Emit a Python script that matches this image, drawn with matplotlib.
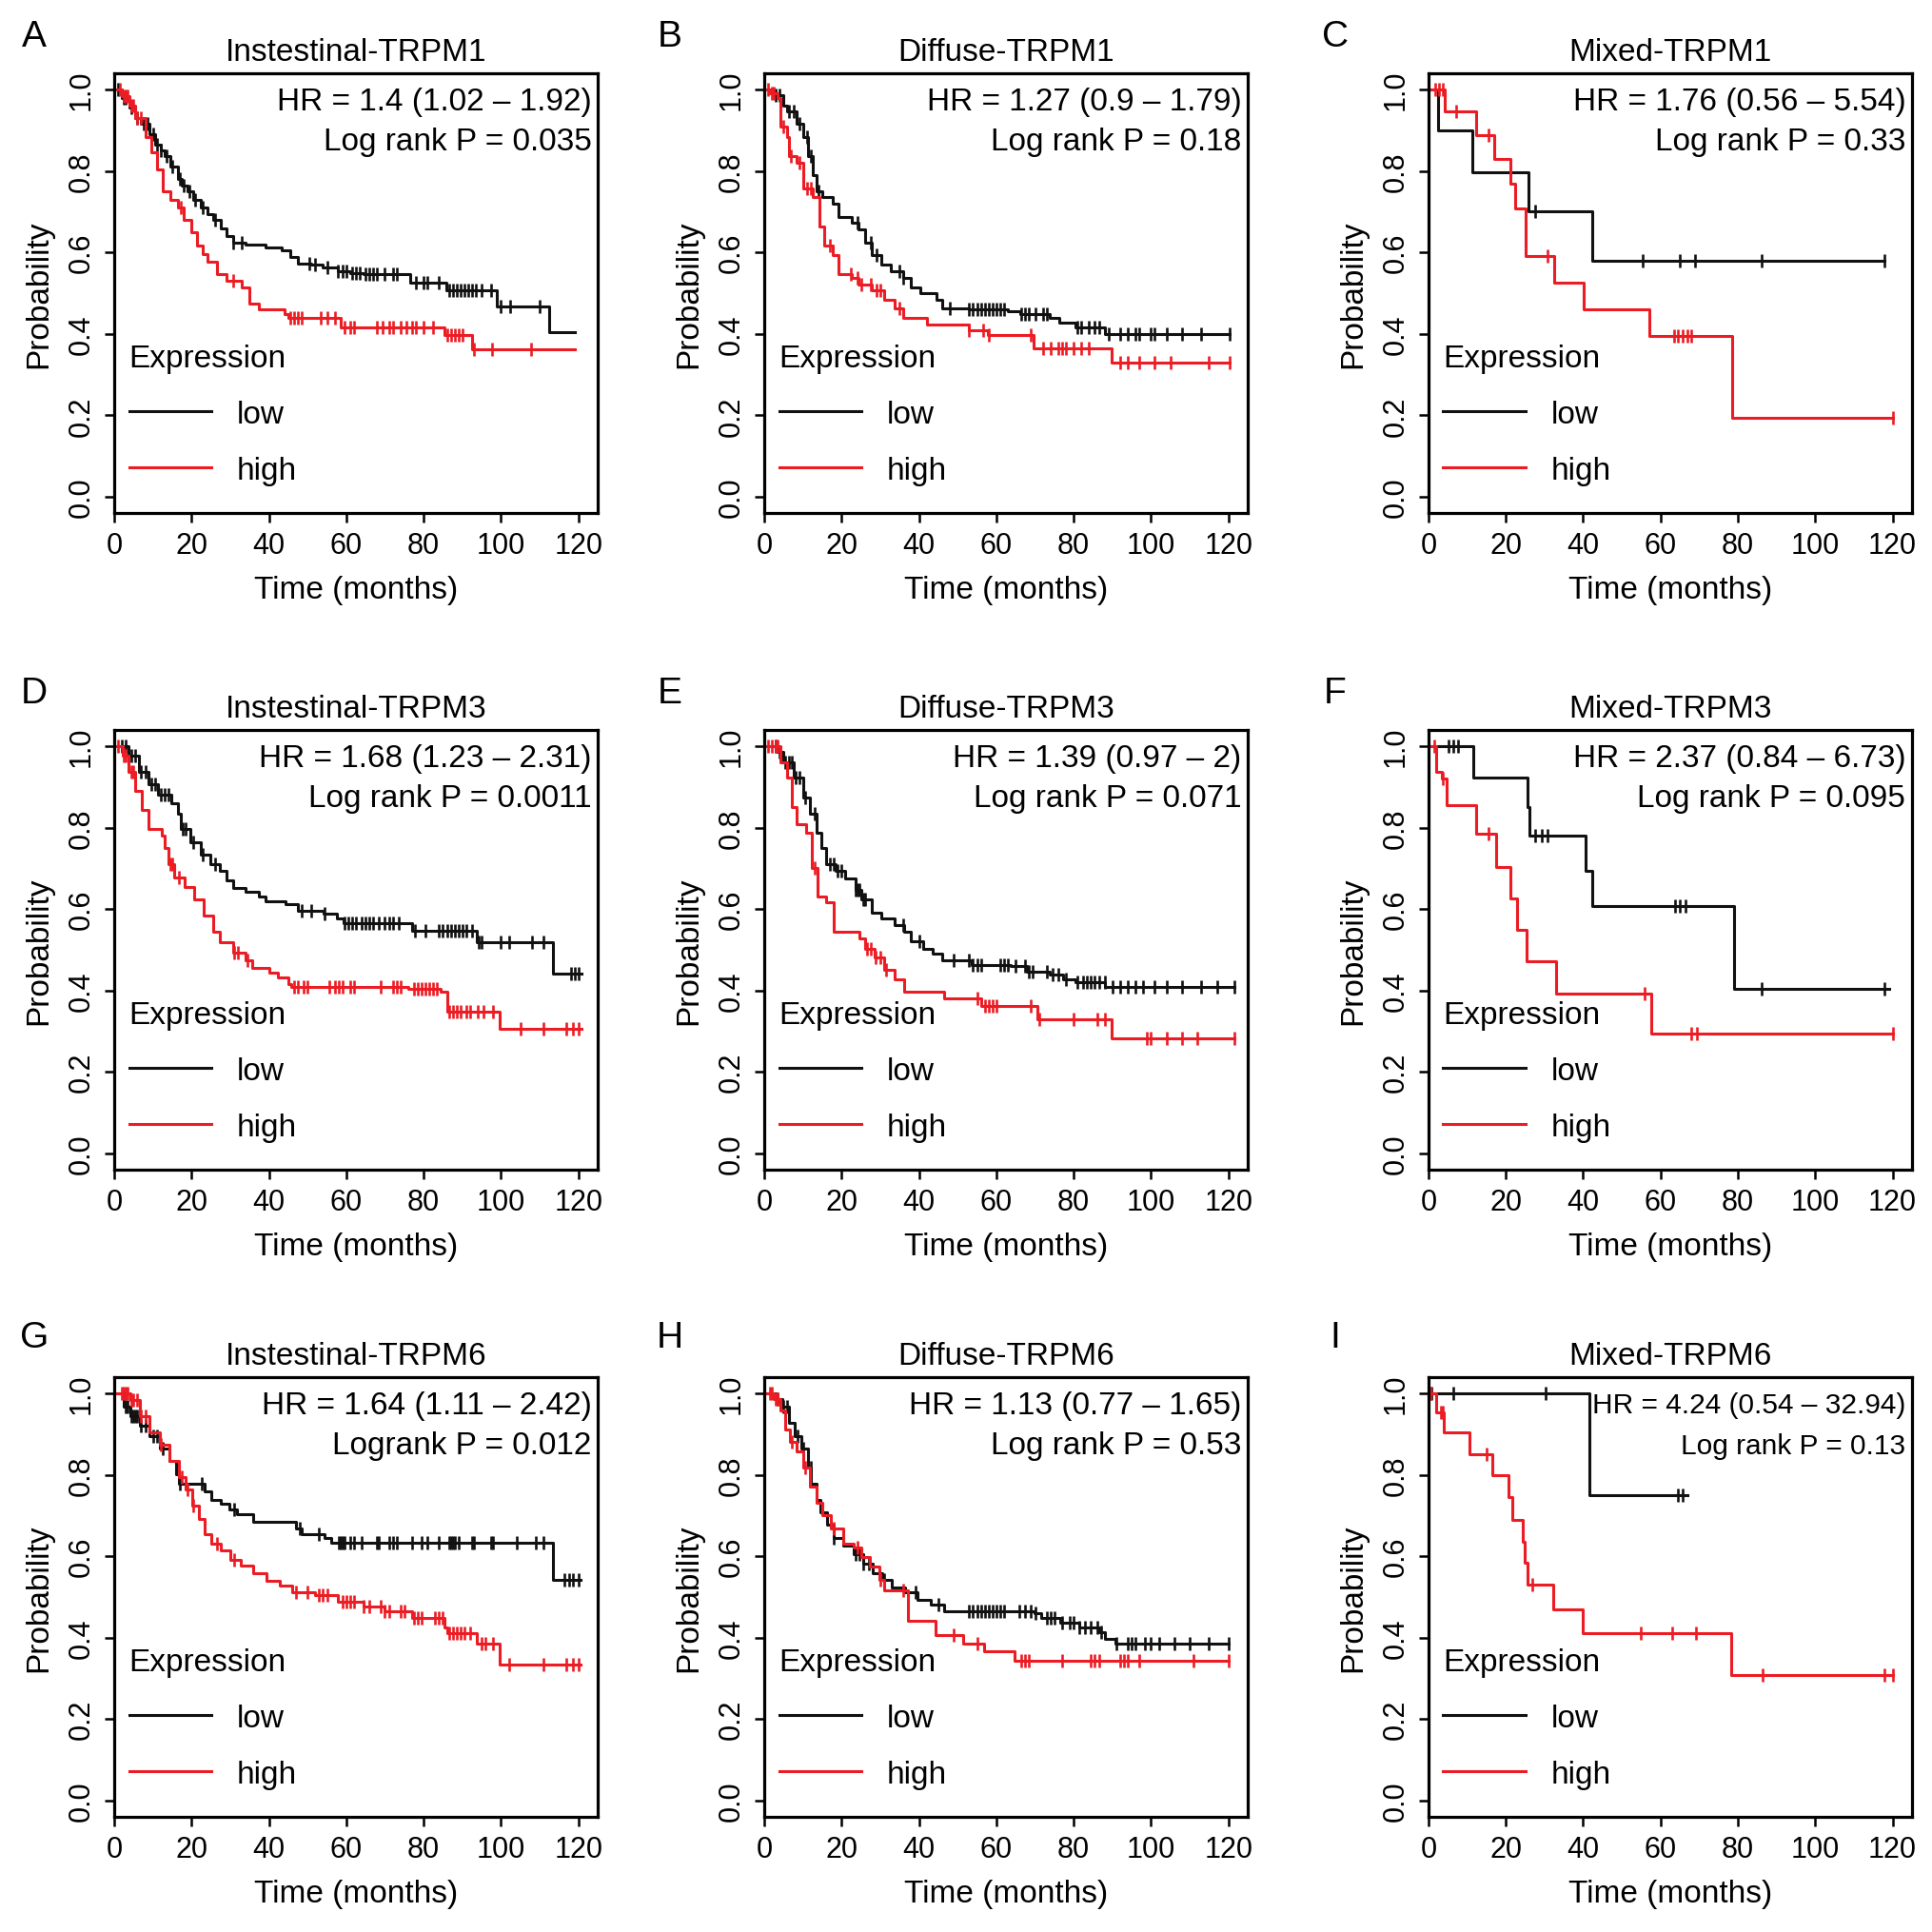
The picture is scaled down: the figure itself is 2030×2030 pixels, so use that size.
import matplotlib
matplotlib.use("Agg")
import matplotlib.pyplot as plt
from matplotlib.lines import Line2D
import numpy as np

plt.rcParams['font.family'] = ['Liberation Sans', 'DejaVu Sans']

RED = '#ec1c24'
BLACK = '#111111'

# ---- panel texts ----
letters = ['A', 'B', 'C', 'D', 'E', 'F', 'G', 'H', 'I']
titles = ['Instestinal-TRPM1', 'Diffuse-TRPM1', 'Mixed-TRPM1',
          'Instestinal-TRPM3', 'Diffuse-TRPM3', 'Mixed-TRPM3',
          'Instestinal-TRPM6', 'Diffuse-TRPM6', 'Mixed-TRPM6']
hr_texts = ['HR = 1.4 (1.02 \u2013 1.92)', 'HR = 1.27 (0.9 \u2013 1.79)', 'HR = 1.76 (0.56 \u2013 5.54)',
            'HR = 1.68 (1.23 \u2013 2.31)', 'HR = 1.39 (0.97 \u2013 2)', 'HR = 2.37 (0.84 \u2013 6.73)',
            'HR = 1.64 (1.11 \u2013 2.42)', 'HR = 1.13 (0.77 \u2013 1.65)', 'HR = 4.24 (0.54 \u2013 32.94)']
p_texts = ['Log rank P = 0.035', 'Log rank P = 0.18', 'Log rank P = 0.33',
           'Log rank P = 0.0011', 'Log rank P = 0.071', 'Log rank P = 0.095',
           'Logrank P = 0.012', 'Log rank P = 0.53', 'Log rank P = 0.13']

# ---- survival curves: step times, survival after step, censor times ----
# A  Intestinal TRPM1
a_low_t = [0, 2, 4, 5.5, 7, 9, 10.5, 12, 13, 14.5, 16.4, 17.5, 19, 20.5, 22.3, 24, 25.7, 27.5, 29, 30.7,
           34, 39, 43.4, 45.5, 47.6, 51, 54, 57.7, 61, 64.4, 76.6, 85.9, 99, 112.4, 119.2]
a_low_s = [1.0, 0.98, 0.955, 0.93, 0.915, 0.89, 0.864, 0.85, 0.837, 0.81, 0.78, 0.765, 0.75, 0.73, 0.711,
           0.695, 0.68, 0.66, 0.64, 0.624, 0.62, 0.613, 0.605, 0.59, 0.573, 0.57, 0.562, 0.554, 0.55,
           0.546, 0.526, 0.507, 0.467, 0.405, 0.405]
a_low_c = [1, 2.5, 3, 4.5, 6, 7.5, 8.5, 10, 11, 12, 13.5, 15, 17, 18, 19.5, 21, 23, 26, 30.7, 33, 50.5,
           52, 55, 57.8, 59, 60, 61.5, 62.5, 63.5, 65, 66, 67, 68, 70, 72, 73, 78, 80, 81, 84, 86.5,
           87.5, 88.5, 89.5, 90.5, 91.5, 92.5, 93.5, 95, 97.5, 99.8, 102.3, 109.9]
a_high_t = [0, 2, 4, 5.5, 8, 9.7, 11, 12.6, 14.5, 16.4, 18, 20, 21.5, 23, 24, 26.5, 29, 33, 35, 37.5,
            44, 45, 58.5, 85.5, 92.6, 119]
a_high_s = [1.0, 0.985, 0.96, 0.93, 0.884, 0.845, 0.805, 0.75, 0.73, 0.711, 0.68, 0.65, 0.617, 0.595,
            0.577, 0.546, 0.53, 0.515, 0.475, 0.46, 0.448, 0.44, 0.416, 0.397, 0.361, 0.361]
a_high_c = [1.5, 2.5, 3, 3.5, 4.5, 5, 6, 7, 17.3, 30.7, 45.5, 46.5, 47.5, 48.5, 53.5, 55, 57, 59.5, 61,
            62, 68, 69.5, 71, 72, 74, 75.5, 77, 78, 80, 82.5, 86, 87, 88, 89, 90, 93, 97.7, 107.8]

# B  Diffuse TRPM1
b_low_t = [0, 2.5, 5, 5.9, 8.4, 10, 11.3, 12.6, 13.4, 15.1, 17.6, 19.3, 22.6, 24.3, 26, 27.7, 30.2,
           32.7, 36, 37.8, 40.3, 44.5, 46.1, 52.9, 62.9, 66.3, 73.8, 76.3, 80.5, 88, 120.4]
b_low_s = [1.0, 0.986, 0.96, 0.947, 0.915, 0.884, 0.837, 0.79, 0.75, 0.735, 0.719, 0.687, 0.672, 0.656,
           0.625, 0.593, 0.57, 0.554, 0.538, 0.515, 0.499, 0.483, 0.463, 0.46, 0.456, 0.448, 0.44,
           0.428, 0.416, 0.4, 0.4]
b_low_c = [3, 4, 6.5, 7.5, 9, 11, 12, 14, 24, 27.5, 29, 35, 36, 48, 53, 54, 55, 56, 57, 58, 59, 60, 61,
           62, 66.5, 67.5, 68.5, 70, 72, 73, 81, 82, 84, 85.5, 86.5, 89, 92, 94, 96, 97, 100, 101, 104,
           108, 113, 120.4]
b_high_t = [0, 1.5, 3.4, 4.2, 5.9, 6.3, 8.4, 10, 12.6, 14.3, 15.5, 17.6, 19.3, 22.6, 24.3, 27.7, 31,
            33.6, 36, 42, 52.9, 57.9, 69.6, 89.8, 120.4]
b_high_s = [1.0, 0.99, 0.98, 0.91, 0.884, 0.837, 0.82, 0.758, 0.735, 0.664, 0.617, 0.593, 0.546, 0.538,
            0.522, 0.507, 0.483, 0.463, 0.44, 0.424, 0.408, 0.397, 0.365, 0.33, 0.33]
b_high_c = [1, 2, 2.5, 5, 6.8, 9, 11, 12, 17, 22.5, 24, 25, 27.5, 29, 30, 35, 53, 56.5, 58, 69, 72, 74,
            76, 77, 78, 80, 82, 84, 92, 94, 97, 101, 105, 115, 120.4]

# C  Mixed TRPM1
c_low_t = [0, 2.5, 11.4, 25.8, 42.3, 118]
c_low_s = [1.0, 0.9, 0.797, 0.7, 0.579, 0.579]
c_low_c = [27.5, 55.4, 65, 69, 86.2, 118]
c_high_t = [0, 4.2, 12.3, 17.1, 21.1, 22.4, 25.2, 32.5, 40.2, 57.2, 78.6, 120]
c_high_s = [1.0, 0.947, 0.888, 0.83, 0.77, 0.709, 0.592, 0.526, 0.461, 0.394, 0.195, 0.195]
c_high_c = [1.7, 2.8, 3.8, 7.2, 15.6, 30.9, 63.4, 64.6, 65.8, 67, 68, 120]

# D  Intestinal TRPM3
d_low_t = [0, 3.8, 6.3, 8.8, 11.4, 14.7, 16.4, 17.2, 19.8, 22.3, 24.8, 27.3, 29, 30.7, 34, 37.4, 39.1,
           44.2, 47.5, 54.2, 57.6, 59.3, 76.9, 93.8, 113.5, 120.7]
d_low_s = [1.0, 0.976, 0.937, 0.906, 0.882, 0.859, 0.835, 0.796, 0.765, 0.733, 0.71, 0.694, 0.67, 0.651,
           0.643, 0.631, 0.62, 0.612, 0.596, 0.588, 0.576, 0.565, 0.547, 0.518, 0.442, 0.442]
d_low_c = [2, 3, 4.5, 5.5, 7, 8, 9.5, 10.5, 12, 13, 14, 17.8, 18.5, 20.5, 22.8, 26, 48.4, 50.9, 54.5,
           59.5, 60.5, 61.5, 62.5, 64, 65, 66, 67, 68.5, 70, 71, 72, 73.6, 77.7, 80.5, 84, 85, 86, 87,
           88, 89, 90, 91, 92.5, 94.3, 95, 100, 102, 108, 111, 118, 119, 120]
d_high_t = [0, 2.1, 3.8, 5.5, 7.1, 8.8, 12.2, 13, 13.9, 15.6, 18.1, 20.6, 23.1, 25.6, 27.3, 30.7, 34,
            35.7, 40, 42.4, 45, 45.8, 76.1, 84.5, 86, 99.7, 120.7]
d_high_s = [1.0, 0.976, 0.937, 0.89, 0.843, 0.796, 0.78, 0.749, 0.71, 0.678, 0.655, 0.624, 0.584, 0.545,
            0.518, 0.494, 0.475, 0.455, 0.443, 0.431, 0.416, 0.408, 0.404, 0.396, 0.349, 0.306, 0.306]
d_high_c = [1, 2.5, 3, 4.5, 5, 14.5, 15, 16.8, 31, 32, 34.5, 46.5, 47.5, 49, 50, 55.5, 57, 58, 59, 61,
            62, 69, 72, 73, 74, 77.5, 78.5, 79.5, 80.5, 81.5, 82.5, 83.5, 86.5, 87.5, 88.5, 89.5, 91,
            92, 94, 95.5, 98, 105, 111, 117, 118.5, 120]

# E  Diffuse TRPM3
e_low_t = [0, 3.4, 5, 7.6, 10, 11.7, 13.4, 14.7, 15.9, 18.5, 21, 23.5, 25.2, 27.7, 30.2, 33.6, 36.1,
           37.8, 41.1, 43.6, 46.1, 53.7, 63.8, 68, 73.8, 77.2, 80.5, 88.1, 121.6]
e_low_s = [1.0, 0.985, 0.96, 0.922, 0.875, 0.835, 0.788, 0.749, 0.71, 0.694, 0.675, 0.647, 0.624, 0.592,
           0.576, 0.561, 0.545, 0.522, 0.502, 0.49, 0.475, 0.463, 0.459, 0.447, 0.439, 0.427, 0.42,
           0.408, 0.408]
e_low_c = [3, 4, 5.5, 6.5, 7, 8, 9, 10.5, 13, 17, 18, 19, 20, 23.5, 24, 24.5, 25.5, 26, 36, 40, 49, 53,
           54, 55, 56, 61, 62, 63, 65, 67.5, 68.5, 69.5, 73, 74.5, 76, 78, 81, 82.5, 83.5, 84.5, 85.5,
           86.5, 88, 90, 92, 94, 96, 98, 101, 104, 108, 113, 117, 121.6]
e_high_t = [0, 4.2, 5.9, 7.1, 8.4, 10.9, 12.2, 13.8, 15.9, 18, 24.7, 26, 28.5, 31, 33.6, 36.1, 46.6,
            56.2, 70.5, 89.8, 121.6]
e_high_s = [1.0, 0.96, 0.922, 0.851, 0.808, 0.788, 0.702, 0.631, 0.616, 0.545, 0.529, 0.502, 0.482,
            0.451, 0.427, 0.396, 0.38, 0.361, 0.329, 0.282, 0.282]
e_high_c = [1, 2, 3, 3.5, 13, 26.5, 27.5, 28.8, 30, 31.5, 55, 57, 58, 59, 60, 69, 71, 80, 86, 88, 99,
            100, 104, 108, 112, 121.6]

# F  Mixed TRPM3
f_low_t = [0, 11.7, 25.5, 26.2, 40.6, 42.3, 79, 119.2]
f_low_s = [1.0, 0.922, 0.851, 0.78, 0.694, 0.608, 0.405, 0.405]
f_low_c = [5.1, 6.3, 7.6, 27.5, 29.2, 30.9, 63.8, 65, 66.4, 86.2, 118]
f_high_t = [0, 2.1, 3.4, 4.6, 12.3, 17.6, 21.3, 22.8, 25.4, 33, 57.5, 120]
f_high_s = [1.0, 0.937, 0.92, 0.855, 0.784, 0.704, 0.627, 0.549, 0.472, 0.392, 0.294, 0.294]
f_high_c = [1.5, 3.8, 15.6, 55.8, 68, 69.3, 120]

# G  Intestinal TRPM6
g_low_t = [0, 2.5, 4.2, 6.7, 9.2, 11.7, 14.2, 15.9, 16.7, 23.4, 25.1, 27.6, 29.7, 31.8, 36, 46.9, 48.5,
           54.4, 56, 113.4, 120.5]
g_low_s = [1.0, 0.967, 0.943, 0.92, 0.896, 0.865, 0.834, 0.802, 0.779, 0.759, 0.739, 0.728, 0.716,
           0.704, 0.684, 0.669, 0.653, 0.645, 0.633, 0.542, 0.542]
g_low_c = [3, 3.5, 4.5, 5, 5.5, 6, 7, 8, 10, 11, 12.5, 17, 22.6, 31, 48, 53, 58, 58.5, 59, 59.5, 61, 62,
           64, 68, 68.5, 71, 72, 73, 77, 79.5, 81, 84, 86.5, 87, 87.5, 88, 89, 92.5, 93, 97.5, 98, 104,
           109, 111, 116.5, 117.5, 118.5, 120]
g_high_t = [0, 4.2, 6.7, 9.2, 11.7, 14.2, 16.7, 18.4, 20.1, 21.8, 23.4, 25.1, 27.6, 30.1, 32.6, 36,
            39.3, 42.7, 46, 51.9, 57.7, 64.4, 70, 77, 85.4, 86.2, 93.7, 99.6, 120.5]
g_high_s = [1.0, 0.983, 0.943, 0.904, 0.873, 0.834, 0.794, 0.763, 0.724, 0.692, 0.653, 0.63, 0.614,
            0.59, 0.578, 0.559, 0.539, 0.527, 0.512, 0.504, 0.488, 0.476, 0.465, 0.449, 0.425, 0.41,
            0.386, 0.335, 0.335]
g_high_c = [2, 2.5, 3, 3.5, 4.5, 5, 6, 7, 8, 12, 17.5, 19, 20.5, 26.5, 31, 47, 50, 53, 54, 55, 59, 60,
            61, 62, 64.5, 66, 69, 70, 71, 74, 75, 77.5, 78.5, 79.5, 83, 84, 85, 86.5, 87.5, 88.5, 89.5,
            90.5, 92, 95, 96, 98, 102, 111, 117, 118.5, 120]

# H  Diffuse TRPM6
h_low_t = [0, 2.9, 4.6, 6.3, 7.9, 9.6, 11.3, 12.1, 13.4, 14.6, 16.3, 18, 20.5, 23, 25.5, 28, 30.5, 33,
           36.4, 39.7, 43.1, 46.4, 69.8, 71.5, 76.5, 81.5, 86.5, 88.2, 90.7, 120]
h_low_s = [1.0, 0.985, 0.967, 0.928, 0.896, 0.865, 0.818, 0.779, 0.739, 0.708, 0.677, 0.645, 0.626,
           0.606, 0.582, 0.559, 0.543, 0.524, 0.512, 0.492, 0.48, 0.465, 0.461, 0.449, 0.437, 0.425,
           0.414, 0.398, 0.385, 0.385]
h_low_c = [3.5, 5, 6, 8.5, 10, 12, 18, 23.5, 24.5, 25.5, 27, 31, 39, 45, 53, 54, 55, 56, 57, 58, 59, 60,
           61, 62, 66, 67.5, 69, 70, 73, 74, 75, 77, 79, 80, 81.5, 83, 84.5, 86, 87, 91, 94, 95, 96,
           98.5, 100, 102, 106, 110, 115, 120]
h_high_t = [0, 2.5, 4.2, 5.4, 6.7, 8.4, 10, 11.7, 13.4, 15, 17.1, 20.5, 23, 25.1, 27.2, 29.7, 31, 37.2,
            44.3, 51.4, 56.9, 64.8, 120]
h_high_s = [1.0, 0.985, 0.959, 0.912, 0.881, 0.857, 0.818, 0.771, 0.732, 0.7, 0.669, 0.63, 0.622, 0.598,
            0.575, 0.543, 0.516, 0.441, 0.406, 0.386, 0.367, 0.343, 0.343]
h_high_c = [1.5, 2, 3, 3.5, 7, 10.5, 18, 24, 30, 36, 49, 55, 66.5, 67.5, 68.5, 77, 84.5, 85.5, 86.5,
            92, 93, 94, 97, 111, 120]

# I  Mixed TRPM6
i_low_t = [0, 41.6, 67]
i_low_s = [1.0, 0.75, 0.75]
i_low_c = [0.8, 6.5, 30.2, 64.4, 65.7]
i_high_t = [0, 1.9, 4, 10.7, 16.4, 20.6, 21.7, 24.3, 24.9, 25.5, 32.3, 39.9, 78.4, 120.2]
i_high_s = [1.0, 0.954, 0.905, 0.85, 0.798, 0.746, 0.69, 0.635, 0.584, 0.531, 0.47, 0.411, 0.309, 0.309]
i_high_c = [0.6, 3.1, 3.7, 15, 26.8, 55, 63.1, 69.1, 86.4, 118, 120.2]

low_curves = [(a_low_t, a_low_s, a_low_c), (b_low_t, b_low_s, b_low_c), (c_low_t, c_low_s, c_low_c),
              (d_low_t, d_low_s, d_low_c), (e_low_t, e_low_s, e_low_c), (f_low_t, f_low_s, f_low_c),
              (g_low_t, g_low_s, g_low_c), (h_low_t, h_low_s, h_low_c), (i_low_t, i_low_s, i_low_c)]
high_curves = [(a_high_t, a_high_s, a_high_c), (b_high_t, b_high_s, b_high_c), (c_high_t, c_high_s, c_high_c),
               (d_high_t, d_high_s, d_high_c), (e_high_t, e_high_s, e_high_c), (f_high_t, f_high_s, f_high_c),
               (g_high_t, g_high_s, g_high_c), (h_high_t, h_high_s, h_high_c), (i_high_t, i_high_s, i_high_c)]


def draw_km(ax, t, s, cens, color):
    t = np.asarray(t, dtype=float)
    s = np.asarray(s, dtype=float)
    ax.step(t, s, where='post', color=color, lw=2.2)
    c = np.asarray(cens, dtype=float)
    idx = np.searchsorted(t, c, side='right') - 1
    ax.plot(c, s[idx], ls='none', marker='|', ms=10, mew=1.9, color=color)


fig = plt.figure(figsize=(20.31, 20.31), dpi=100)
col_left = [0.0591, 0.3954, 0.7390]
row_bottom = [0.7341, 0.3944, 0.0596]
ax_w, ax_h = 0.2501, 0.2275
letter_x = [0.0178, 0.3467, 0.6908]
letter_y = [0.981, 0.641, 0.3077]

for k in range(9):
    r, c = divmod(k, 3)
    ax = fig.add_axes([col_left[c], row_bottom[r], ax_w, ax_h])
    lt, ls_, lc = low_curves[k]
    ht, hs, hc = high_curves[k]
    draw_km(ax, lt, ls_, lc, BLACK)
    draw_km(ax, ht, hs, hc, RED)

    ax.set_xlim(0, 125)
    ax.set_ylim(-0.04, 1.04)
    ax.set_xticks(np.arange(0, 121, 20))
    ax.set_yticks(np.arange(0, 1.01, 0.2))
    ax.set_yticklabels(['%.1f' % v for v in np.arange(0, 1.01, 0.2)])
    ax.tick_params(direction='out', length=7, width=1.8, labelsize=22, pad=7)
    for lab in ax.get_yticklabels():
        lab.set_rotation(90)
        lab.set_va('center')
    for sp in ax.spines.values():
        sp.set_linewidth(2.3)

    ax.set_title(titles[k], fontsize=24, pad=10)
    ax.set_xlabel('Time (months)', fontsize=24, labelpad=11)
    ax.set_ylabel('Probability', fontsize=24, labelpad=10)

    fs = 21.5 if k == 8 else 24
    ax.text(0.987, 0.937, hr_texts[k], transform=ax.transAxes, ha='right', va='center', fontsize=fs)
    ax.text(0.987, 0.845, p_texts[k], transform=ax.transAxes, ha='right', va='center', fontsize=fs)

    handles = [Line2D([], [], color=BLACK, lw=2.2), Line2D([], [], color=RED, lw=2.2)]
    ax.legend(handles, ['low', 'high'], title='Expression', title_fontsize=24, fontsize=24,
              loc='lower left', bbox_to_anchor=(-0.022, 0.005), frameon=False, alignment='left',
              handlelength=2.6, handletextpad=0.8, labelspacing=0.84, borderpad=0.3)

    fig.text(letter_x[c], letter_y[r], letters[k], fontsize=28, ha='center', va='center')

fig.savefig('out.png', dpi=100)
